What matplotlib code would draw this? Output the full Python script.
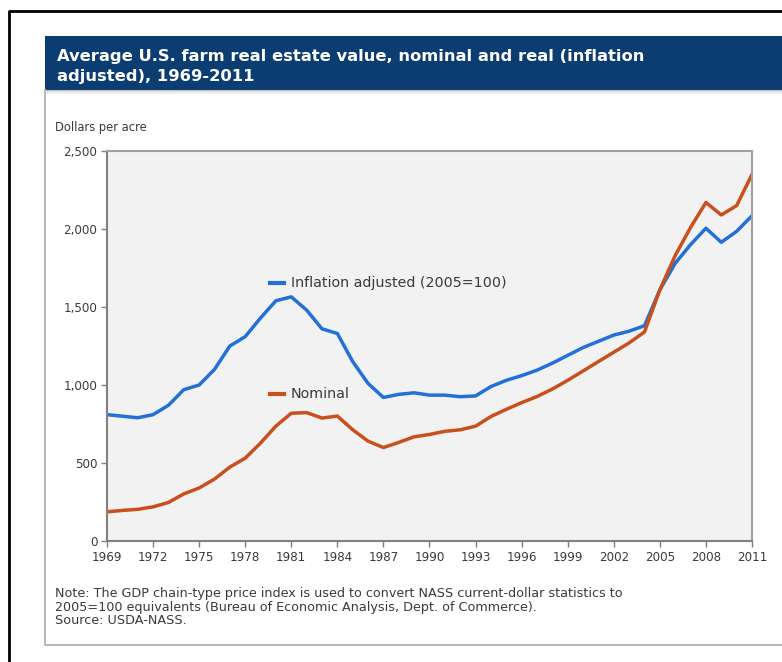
import matplotlib
matplotlib.use("Agg")
import matplotlib.pyplot as plt
from matplotlib.lines import Line2D
from matplotlib.patches import Rectangle
from matplotlib.ticker import FuncFormatter

years = list(range(1969, 2012))
nominal = [187, 196, 203, 219, 247, 302, 340, 397, 474, 531, 628, 737, 819, 823,
           788, 801, 713, 640, 599, 632, 668, 683, 703, 713, 736, 798, 844, 887,
           926, 974, 1030, 1090, 1150, 1210, 1270, 1340, 1610, 1830, 2010, 2170,
           2090, 2150, 2350]
real = [810, 800, 790, 810, 870, 970, 1000, 1100, 1250, 1310, 1430, 1540, 1565,
        1480, 1360, 1330, 1150, 1010, 920, 940, 950, 935, 935, 925, 930, 990,
        1030, 1060, 1095, 1140, 1190, 1240, 1280, 1320, 1345, 1380, 1610, 1780,
        1900, 2005, 1915, 1985, 2085]
xticks = list(range(1969, 2012, 3))
yticks = [0, 500, 1000, 1500, 2000, 2500]

title_lines = ["Average U.S. farm real estate value, nominal and real (inflation",
               "adjusted), 1969-2011"]
ylabel = "Dollars per acre"
label_real = "Inflation adjusted (2005=100)"
label_nom = "Nominal"
note_lines = ["Note: The GDP chain-type price index is used to convert NASS current-dollar statistics to",
              "2005=100 equivalents (Bureau of Economic Analysis, Dept. of Commerce).",
              "Source: USDA-NASS."]

BLUE = "#2270d8"
ORANGE = "#c9501c"
NAVY = "#0b3c72"
TXT = "#3a3a3a"

plt.rcParams['font.family'] = ['DejaVu Sans']

W, H = 782, 662
fig = plt.figure(figsize=(W / 100, H / 100), dpi=100)
fig.patch.set_facecolor("white")

def fx(px):
    return px / W

def fy(py):
    return 1 - py / H

# outer black frame (left and top)
fig.add_artist(Line2D([fx(9), fx(9), fx(782)], [fy(662), fy(11), fy(11)],
                      color="black", lw=2, transform=fig.transFigure))
# inner gray box
fig.add_artist(Line2D([fx(45), fx(45), fx(782)], [fy(90), fy(645), fy(645)],
                      color="#b8b8b8", lw=1.5, transform=fig.transFigure))
# title bar
fig.add_artist(Rectangle((fx(45), fy(90)), fx(782) - fx(45), fy(36) - fy(90),
                         facecolor=NAVY, edgecolor="none", transform=fig.transFigure))
for i, c in enumerate(["#c8c8c8", "#dcdcdc", "#eaeaea", "#f4f4f4"]):
    fig.add_artist(Rectangle((fx(45), fy(91 + i)), fx(782) - fx(45), fy(90 + i) - fy(91 + i),
                             facecolor=c, edgecolor="none", transform=fig.transFigure))
for i, line in enumerate(title_lines):
    fig.text(fx(57), fy(56 + 20 * i), line, color="white", fontsize=11.8,
             fontweight="bold", va="center", ha="left")

fig.text(fx(55), fy(127), ylabel, fontsize=8.3, color=TXT, va="center", ha="left")

ax = fig.add_axes([fx(107), fy(541), fx(752) - fx(107), fy(151) - fy(541)])
ax.set_facecolor("#f2f2f2")
ax.plot(years, real, color=BLUE, lw=2.5, solid_joinstyle="round")
ax.plot(years, nominal, color=ORANGE, lw=2.5, solid_joinstyle="round")
ax.set_xlim(1969, 2011)
ax.set_ylim(0, 2500)
ax.set_xticks(xticks)
ax.set_yticks(yticks)
ax.yaxis.set_major_formatter(FuncFormatter(lambda v, p: f"{int(v):,}"))
for s in ax.spines.values():
    s.set_color("#a0a0a0")
    s.set_linewidth(1.5)
ax.spines["left"].set_color("#808080")
ax.spines["bottom"].set_color("#808080")
ax.tick_params(axis="both", colors="#808080", labelcolor=TXT, labelsize=8.6,
               length=4, width=1)
ax.tick_params(axis="x", pad=3)
ax.tick_params(axis="y", pad=3)

# inline legend
ax.plot([0.252, 0.275], [0.662, 0.662], transform=ax.transAxes, color=BLUE, lw=3)
ax.text(0.285, 0.662, label_real, transform=ax.transAxes, fontsize=10.3,
        color=TXT, va="center", ha="left")
ax.plot([0.252, 0.275], [0.377, 0.377], transform=ax.transAxes, color=ORANGE, lw=3)
ax.text(0.285, 0.377, label_nom, transform=ax.transAxes, fontsize=10.3,
        color=TXT, va="center", ha="left")

for i, line in enumerate(note_lines):
    fig.text(fx(55), fy(594 + 13.5 * i), line, fontsize=9.2, color=TXT,
             va="center", ha="left")

fig.savefig("out.png", dpi=100)
